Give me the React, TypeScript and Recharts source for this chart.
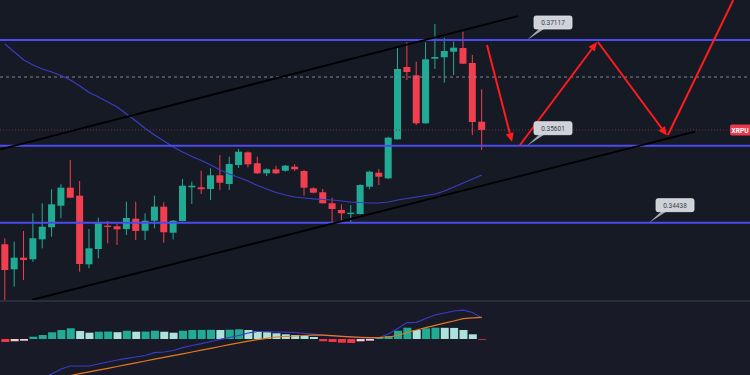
import React from 'react';
import { ComposedChart, Bar, Line, XAxis, YAxis, ReferenceLine, ReferenceDot, Cell } from 'recharts';

// ---- candle data (XRP/USDT), one per bar index ----
const openPrices = [0.34187, 0.33828, 0.33995, 0.33972, 0.34258, 0.34431, 0.3474, 0.34999, 0.34884, 0.339, 0.34119, 0.34454, 0.34445, 0.34406, 0.34554, 0.34382, 0.34525, 0.34726, 0.34353, 0.34521, 0.35004, 0.35004, 0.3498, 0.35176, 0.35052, 0.35324, 0.35506, 0.35349, 0.35205, 0.35262, 0.35242, 0.353, 0.35238, 0.3499, 0.34933, 0.34775, 0.34679, 0.34621, 0.34621, 0.35013, 0.35214, 0.35133, 0.35693, 0.3673, 0.36611, 0.35922, 0.36849, 0.36869, 0.36949, 0.37002, 0.36787, 0.35945];
const highPrices = [0.34273, 0.34224, 0.34378, 0.34631, 0.34775, 0.34976, 0.35047, 0.35396, 0.35095, 0.34406, 0.34568, 0.34521, 0.34478, 0.34798, 0.34798, 0.34631, 0.34884, 0.34789, 0.34535, 0.35123, 0.35085, 0.35242, 0.35277, 0.35468, 0.35443, 0.35554, 0.35518, 0.35443, 0.35277, 0.35314, 0.35324, 0.35334, 0.35252, 0.35004, 0.3498, 0.34855, 0.3476, 0.3475, 0.35047, 0.35242, 0.35267, 0.3573, 0.37021, 0.37084, 0.36806, 0.37084, 0.37347, 0.3715, 0.37093, 0.37236, 0.36902, 0.3641];
const lowPrices = [0.3336, 0.33579, 0.33675, 0.33937, 0.34129, 0.34296, 0.3456, 0.3485, 0.33794, 0.33843, 0.33986, 0.34201, 0.34177, 0.3432, 0.34248, 0.34248, 0.34416, 0.3421, 0.34258, 0.34515, 0.34765, 0.34908, 0.34822, 0.34966, 0.34966, 0.35281, 0.35291, 0.35195, 0.35166, 0.35195, 0.35228, 0.35238, 0.34884, 0.34918, 0.34772, 0.34488, 0.34497, 0.34497, 0.34615, 0.34976, 0.35037, 0.35123, 0.35688, 0.36543, 0.35898, 0.35918, 0.36701, 0.36505, 0.36615, 0.36772, 0.35754, 0.35539];
const closePrices = [0.33818, 0.33995, 0.33962, 0.34273, 0.34439, 0.3476, 0.34999, 0.34855, 0.33904, 0.34129, 0.34488, 0.34435, 0.34402, 0.34564, 0.34378, 0.34525, 0.34726, 0.34359, 0.34525, 0.35027, 0.35027, 0.34976, 0.35176, 0.3507, 0.35338, 0.35515, 0.35334, 0.35205, 0.35262, 0.35205, 0.35314, 0.35262, 0.34999, 0.34927, 0.34775, 0.34693, 0.34631, 0.3464, 0.35037, 0.35228, 0.35156, 0.35716, 0.36701, 0.36658, 0.35922, 0.3684, 0.36873, 0.36959, 0.37007, 0.36777, 0.35941, 0.35826];
const maValues = [0.3706, 0.36945, 0.3683, 0.36758, 0.36701, 0.36658, 0.36608, 0.36543, 0.36457, 0.36364, 0.36299, 0.36228, 0.36156, 0.36056, 0.35955, 0.35848, 0.35754, 0.35668, 0.35582, 0.35511, 0.35446, 0.35389, 0.35324, 0.35252, 0.35195, 0.35145, 0.35095, 0.3503, 0.3498, 0.3493, 0.34894, 0.34865, 0.34851, 0.34837, 0.34829, 0.34822, 0.34808, 0.34793, 0.34786, 0.34779, 0.34779, 0.34793, 0.34822, 0.34844, 0.34865, 0.34887, 0.34908, 0.34951, 0.35009, 0.35066, 0.35123, 0.35181];

// ---- MACD pane ----
const macdValues = [-59e-5, -54e-5, -49e-5, -44e-5, -39e-5, -35e-5, -30e-5, -27e-5, -27e-5, -27e-5, -25e-5, -23e-5, -21e-5, -19.3e-5, -18e-5, -16.5e-5, -13.7e-5, -13e-5, -11.5e-5, -8.7e-5, -6.5e-5, -4.7e-5, -2.5e-5, -0.3e-5, 1.5e-5, 3.5e-5, 6e-5, 7.5e-5, 7.5e-5, 7e-5, 6.8e-5, 6.5e-5, 5.7e-5, 4.8e-5, 3.8e-5, 3.2e-5, 2.6e-5, 2e-5, 1.4e-5, 0.9e-5, 1.5e-5, 5e-5, 10.5e-5, 16.4e-5, 16.7e-5, 20.5e-5, 24e-5, 26e-5, 28e-5, 28.8e-5, 26.5e-5, 21e-5];
const signalValues = [-52e-5, -49.5e-5, -47e-5, -44.5e-5, -42e-5, -40e-5, -38e-5, -36.5e-5, -34.7e-5, -32.9e-5, -31.1e-5, -29.3e-5, -27.5e-5, -25.7e-5, -23.9e-5, -22e-5, -20.2e-5, -18.4e-5, -16.6e-5, -14.8e-5, -13e-5, -11.2e-5, -9.3e-5, -7.5e-5, -5.7e-5, -3.9e-5, -2.1e-5, -0.6e-5, 0.7e-5, 2e-5, 2.5e-5, 3e-5, 3.5e-5, 3.9e-5, 3.8e-5, 3.3e-5, 2.7e-5, 2.1e-5, 1.7e-5, 1.4e-5, 1.4e-5, 2e-5, 3.5e-5, 6.5e-5, 9e-5, 11.3e-5, 13.6e-5, 15.8e-5, 18e-5, 20.4e-5, 21.2e-5, 21.7e-5];
const histValues = [-3e-5, -2.3e-5, -1.7e-5, 2.3e-5, 4e-5, 6.7e-5, 9e-5, 10.7e-5, 8e-5, 6.3e-5, 7.3e-5, 7.4e-5, 6.8e-5, 8.3e-5, 7.3e-5, 7.4e-5, 8.3e-5, 7.3e-5, 6.3e-5, 8.3e-5, 9e-5, 9.1e-5, 9.2e-5, 9e-5, 9.3e-5, 9.7e-5, 9e-5, 8e-5, 6.7e-5, 5.7e-5, 4.7e-5, 4e-5, 3e-5, 2e-5, -2.3e-5, -3e-5, -3.7e-5, -4e-5, -2.3e-5, -1.7e-5, 1e-5, 3e-5, 8.3e-5, 11.3e-5, 9e-5, 10.7e-5, 11.3e-5, 11.2e-5, 11.1e-5, 9e-5, 4.7e-5, -0.7e-5];

// ---- levels / drawings (bar index, price) ----
const levelPrices = [0.37117, 0.35601, 0.34497];
const levelLabels = ['0.37117', '0.35601', '0.34438'];
const levelLabelIndex = [55.83, 55.83, 68.88];
const dashedLevel = 0.36586;
const lastPrice = 0.35826;
const tickerLabel = 'XRPU';
const tickerIndex = 77.54;
const trendUpper = [{ x: -0.5, y: 0.35549 }, { x: 54.87, y: 0.3746 }];
const trendLower = [{ x: 2.86, y: 0.33389 }, { x: 73.8, y: 0.35802 }];
const projection = [
  [{ x: 51.55, y: 0.37045 }, { x: 54.23, y: 0.35654 }],
  [{ x: 55.08, y: 0.35611 }, { x: 63.32, y: 0.37088 }],
  [{ x: 63.42, y: 0.37088 }, { x: 70.8, y: 0.35747 }],
  [{ x: 70.9, y: 0.35754 }, { x: 77.89, y: 0.3769 }],
];
const projectionHeads = [true, true, true, false];

const X_DOMAIN = [-0.535, 79.68];
const Y_DOMAIN = [0.333878, 0.376907];
const MACD_DOMAIN = [-36e-5, 37e-5];

const UP = '#22ab94';
const DOWN = '#f23f4f';
const RED = '#ff1c1c';
const LEVEL = '#4b4bf0';
const FONT = 'Roboto, "Noto Sans", sans-serif';

const rows = openPrices.map((o, i) => ({
  i,
  range: [lowPrices[i], highPrices[i]],
  open: o,
  high: highPrices[i],
  low: lowPrices[i],
  close: closePrices[i],
  ma: maValues[i],
}));

const macdRows = macdValues.map((m, i) => ({ i, macd: m, signal: signalValues[i], hist: histValues[i] }));

const histColor = (i: number) => {
  const v = histValues[i];
  const prev = i > 0 ? histValues[i - 1] : v + (v < 0 ? 1 : -1);
  if (v >= 0) return v >= prev ? '#22ab94' : '#ace2da';
  return v <= prev ? '#f23645' : '#fbc9cc';
};

const Candle = (props: any) => {
  const { x, y, width, height, payload } = props;
  const { open, close, high, low } = payload;
  const top0 = Math.min(y, y + height);
  const h = Math.abs(height);
  const px = (v: number) => top0 + ((high - v) / (high - low)) * h;
  const color = close >= open ? UP : DOWN;
  const cx = x + width / 2;
  const bTop = px(Math.max(open, close));
  const bBot = px(Math.min(open, close));
  return (
    <g>
      <line x1={cx} x2={cx} y1={top0} y2={top0 + h} stroke={color} strokeWidth={1} />
      <rect x={x} y={bTop} width={width} height={Math.max(1.2, bBot - bTop)} fill={color} />
    </g>
  );
};

const arrowShape = (head: boolean) => (p: any) => {
  const x1 = Number(p.x1), y1 = Number(p.y1), x2 = Number(p.x2), y2 = Number(p.y2);
  const ang = Math.atan2(y2 - y1, x2 - x1);
  const L = 9, W = 4;
  const bx = x2 - L * Math.cos(ang);
  const by = y2 - L * Math.sin(ang);
  const pts = `${x2},${y2} ${bx + W * Math.sin(ang)},${by - W * Math.cos(ang)} ${bx - W * Math.sin(ang)},${by + W * Math.cos(ang)}`;
  return (
    <g>
      <line x1={x1} y1={y1} x2={head ? bx : x2} y2={head ? by : y2} stroke={RED} strokeWidth={2} />
      {head && <polygon points={pts} fill={RED} />}
    </g>
  );
};

const calloutShape = (text: string) => (p: any) => {
  const cx = Number(p.cx), cy = Number(p.cy);
  const bx = cx + 7, by = cy - 24, bw = 38, bh = 13;
  return (
    <g>
      <polygon points={`${cx},${cy} ${bx + 5},${by + bh} ${bx + 10},${by + bh}`} fill="#a9acb3" />
      <rect x={bx} y={by} width={bw} height={bh} rx={2} fill="#cfd2d8" stroke="#e4e6ea" strokeWidth={0.8} />
      <text x={bx + bw / 2} y={by + 9} textAnchor="middle" fontSize={6.5} fontFamily={FONT} fill="#40434b">{text}</text>
    </g>
  );
};

const tickerShape = (p: any) => {
  const cx = Number(p.cx), cy = Number(p.cy);
  return (
    <g>
      <rect x={cx} y={cy - 5.5} width={44} height={11} rx={2} fill="#e8394d" />
      <text x={cx + 1.5} y={cy + 2.8} fontSize={6.6} fontWeight={700} fontFamily={FONT} fill="#ffffff">{tickerLabel}</text>
    </g>
  );
};

export default function App() {
  return (
    <div style={{ position: 'fixed', left: 0, top: 0, width: 750, height: 375, background: '#161a25', overflow: 'hidden' }}>
      <div style={{ position: 'absolute', left: 0, top: 0 }}>
        <ComposedChart width={750} height={300} data={rows} margin={{ top: 0, right: 0, bottom: 0, left: 0 }}>
          <XAxis type="number" dataKey="i" domain={X_DOMAIN} hide allowDataOverflow />
          <YAxis type="number" domain={Y_DOMAIN} hide allowDataOverflow />
          <ReferenceLine y={dashedLevel} stroke="#858893" strokeDasharray="3 3" strokeWidth={1} ifOverflow="visible" />
          <ReferenceLine y={lastPrice} stroke="#7c2c3a" strokeDasharray="1 2" strokeWidth={1} ifOverflow="visible" />
          <Line dataKey="ma" stroke="#3c3cc2" strokeWidth={1.2} dot={false} activeDot={false} isAnimationActive={false} />
          <Bar dataKey="range" barSize={7} shape={Candle} isAnimationActive={false} />
          {levelPrices.map((p, k) => (
            <ReferenceLine key={'lv' + k} y={p} stroke={LEVEL} strokeWidth={2} ifOverflow="visible" />
          ))}
          <ReferenceLine segment={trendUpper} stroke="#000000" strokeWidth={1.8} ifOverflow="visible" />
          <ReferenceLine segment={trendLower} stroke="#000000" strokeWidth={1.8} ifOverflow="visible" />
          {projection.map((seg, k) => (
            <ReferenceLine key={'pj' + k} segment={seg} ifOverflow="visible" shape={arrowShape(projectionHeads[k])} />
          ))}
          {levelPrices.map((p, k) => (
            <ReferenceDot key={'lb' + k} x={levelLabelIndex[k]} y={p} ifOverflow="visible" shape={calloutShape(levelLabels[k])} />
          ))}
          <ReferenceDot x={tickerIndex} y={lastPrice} ifOverflow="visible" shape={tickerShape} />
        </ComposedChart>
      </div>
      <div style={{ position: 'absolute', left: 0, top: 300, width: 750, height: 2, background: '#2a2e3a' }} />
      <div style={{ position: 'absolute', left: 0, top: 302, width: 750, height: 73, background: '#181b27' }}>
        <ComposedChart width={750} height={73} data={macdRows} margin={{ top: 0, right: 0, bottom: 0, left: 0 }}>
          <XAxis type="number" dataKey="i" domain={X_DOMAIN} hide allowDataOverflow />
          <YAxis type="number" domain={MACD_DOMAIN} hide allowDataOverflow />
          <Bar dataKey="hist" barSize={8} isAnimationActive={false}>
            {macdRows.map((r, k) => (
              <Cell key={k} fill={histColor(k)} />
            ))}
          </Bar>
          <Line dataKey="macd" stroke="#3a3ac6" strokeWidth={1.2} dot={false} activeDot={false} isAnimationActive={false} />
          <Line dataKey="signal" stroke="#e4781f" strokeWidth={1.2} dot={false} activeDot={false} isAnimationActive={false} />
        </ComposedChart>
      </div>
    </div>
  );
}
